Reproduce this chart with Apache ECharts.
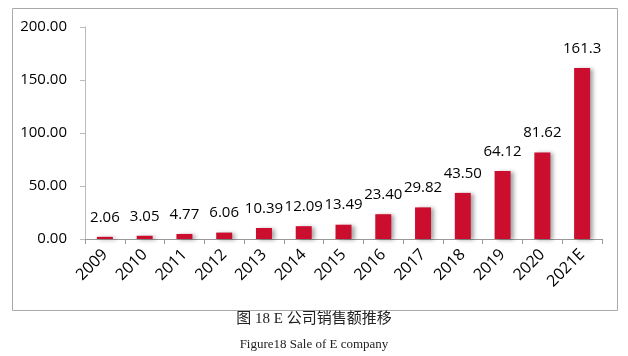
<!DOCTYPE html>
<html><head><meta charset="utf-8">
<script src="https://cdn.jsdelivr.net/npm/echarts@6/dist/echarts.min.js"></script>
<style>html,body{margin:0;padding:0;background:#fff}#c{width:628px;height:356px}</style>
</head><body><div id="c"></div>
<script>
const categories = ['2009','2010','2011','2012','2013','2014','2015','2016','2017','2018','2019','2020','2021E'];
const sales = [2.06, 3.05, 4.77, 6.06, 10.39, 12.09, 13.49, 23.40, 29.82, 43.50, 64.12, 81.62, 161.3];
const labelsText = ['2.06','3.05','4.77','6.06','10.39','12.09','13.49','23.40','29.82','43.50','64.12','81.62','161.3'];
const yTicks = [0, 50, 100, 150, 200];

const chart = echarts.init(document.getElementById('c'));
chart.setOption({
  animation: false,
  grid: {left: 85, right: 26, top: 27, bottom: 117, containLabel: false},
  xAxis: {
    type: 'category', data: categories,
    axisLine: {lineStyle: {color: '#999'}},
    axisTick: {show: true, alignWithLabel: false, length: 5, lineStyle: {color: '#999'}},
    axisLabel: {rotate: 45, fontSize: 16, color: '#000', fontFamily: 'Open Sans', margin: 13}
  },
  yAxis: {
    type: 'value', min: yTicks[0], max: yTicks[yTicks.length-1], interval: 50,
    axisLine: {show: true, lineStyle: {color: '#bbb'}},
    axisTick: {show: true, length: 5, lineStyle: {color: '#bbb'}},
    splitLine: {show: false},
    axisLabel: {fontSize: 15, color: '#000', fontFamily: 'Open Sans', margin: 18,
      formatter: v => v.toFixed(2)}
  },
  series: [{
    type: 'bar', data: sales, barWidth: 16,
    itemStyle: {color: '#CC0E2E', shadowColor: 'rgba(0,0,0,0.35)', shadowBlur: 4, shadowOffsetX: 3, shadowOffsetY: 1},
    label: {show: true, position: 'top', distance: 12, fontSize: 15, color: '#000', fontFamily: 'Open Sans',
      formatter: p => labelsText[p.dataIndex]}
  }],
  graphic: [
    {type: 'rect', shape: {x: 12.5, y: 8.5, width: 605, height: 302}, style: {fill: 'none', stroke: '#aaa', lineWidth: 1}, silent: true, z: -1},
    {type: 'text', left: 'center', top: 312, style: {text: '图 18 E 公司销售额推移', font: '15px "Liberation Serif", "Noto Sans CJK SC"', fill: '#222'}},
    {type: 'text', left: 'center', top: 338, style: {text: 'Figure18 Sale of E company', font: '13px "Liberation Serif"', fill: '#222'}}
  ]
});
</script></body></html>
